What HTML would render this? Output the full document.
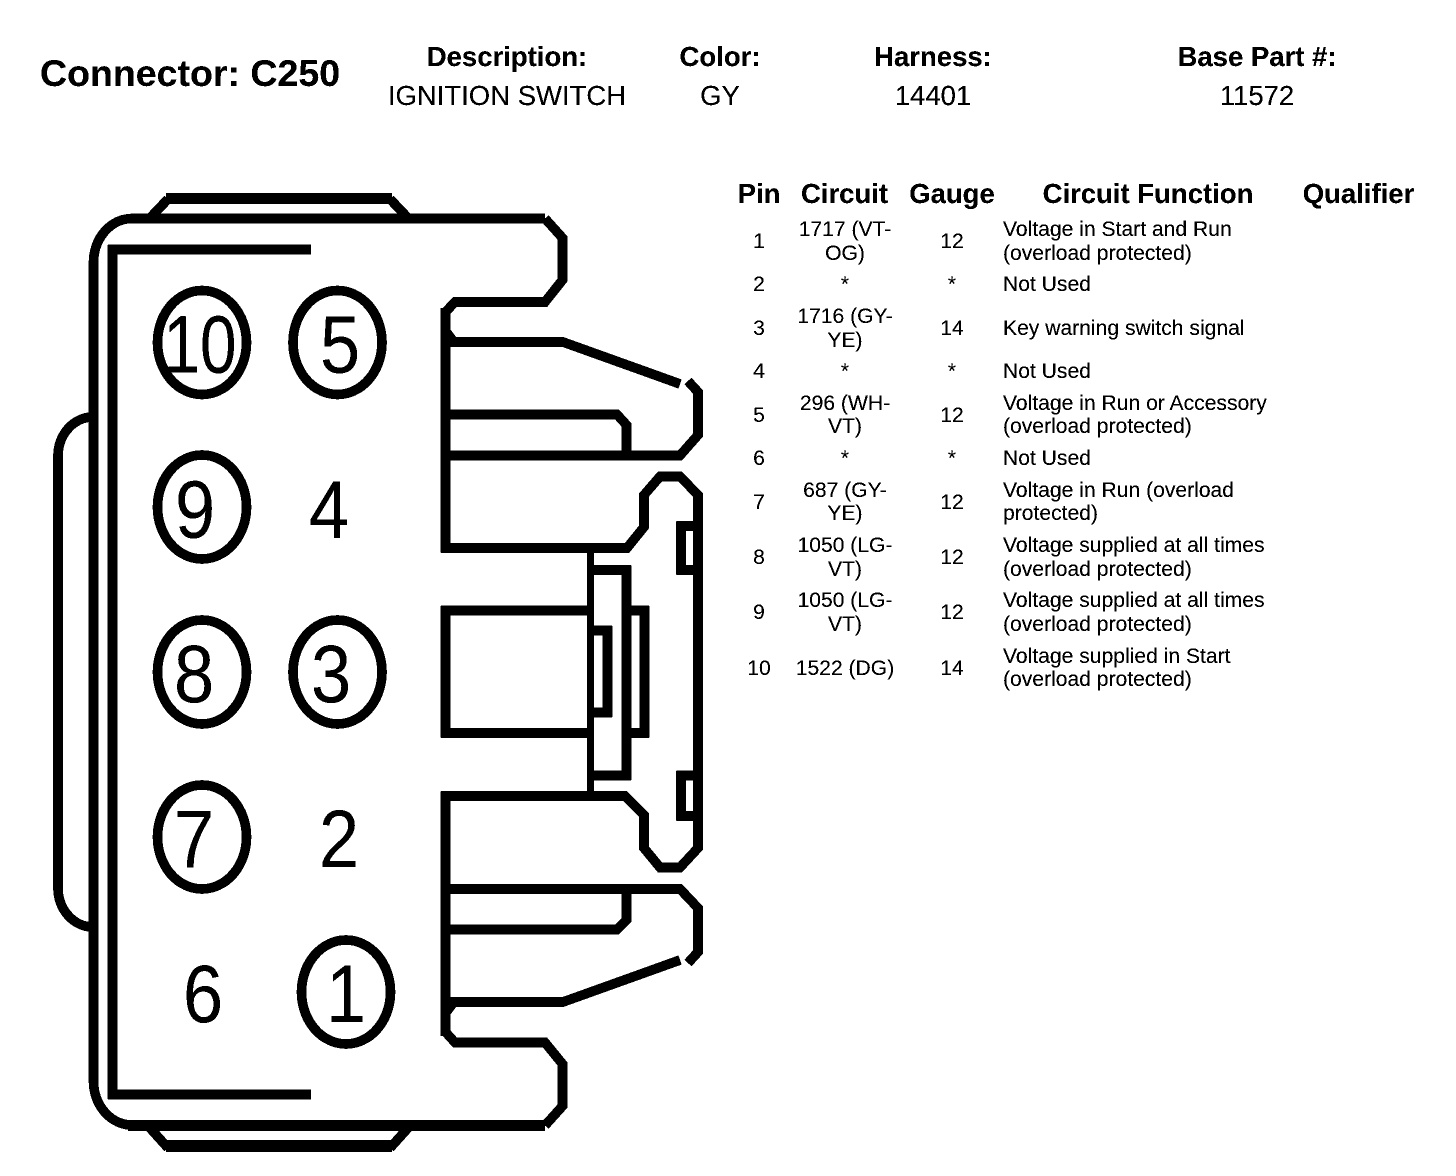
<!DOCTYPE html>
<html><head><meta charset="utf-8"><style>
html,body{margin:0;padding:0;background:#fff;width:1456px;height:1176px;overflow:hidden}
svg{display:block}
text{font-family:"Liberation Sans",Arial,sans-serif;fill:#000}
.h{font-size:27.5px;font-weight:bold;text-anchor:middle}
.v{font-size:27.5px;text-anchor:middle}
.c{font-size:21.1px;text-anchor:middle}
.l{font-size:21.1px}
.d{font-size:82px;text-anchor:middle}
.s{fill:none;stroke:#000;stroke-width:9.5;stroke-linejoin:miter;stroke-linecap:butt}
</style></head><body>
<svg width="1456" height="1176" viewBox="0 0 1456 1176" xmlns="http://www.w3.org/2000/svg">
<defs><filter id="b" x="0" y="0" width="1456" height="1176" filterUnits="userSpaceOnUse"><feComponentTransfer><feFuncA type="discrete" tableValues="0 1 1"/></feComponentTransfer></filter></defs>
<g filter="url(#b)">
<text x="40" y="86" style="font-size:37.5px;font-weight:bold">Connector: C250</text>
<text class="h" x="507" y="66">Description:</text><text class="v" x="507" y="105">IGNITION SWITCH</text>
<text class="h" x="720" y="66">Color:</text><text class="v" x="720" y="105">GY</text>
<text class="h" x="933" y="66">Harness:</text><text class="v" x="933" y="105">14401</text>
<text class="h" x="1257" y="66">Base Part #:</text><text class="v" x="1257" y="105">11572</text>

<text class="h" x="759" y="203">Pin</text><text class="h" x="844.500" y="203">Circuit</text><text class="h" x="952" y="203">Gauge</text><text class="h" x="1148" y="203">Circuit Function</text><text class="h" x="1358.500" y="203">Qualifier</text>

<text class="c" x="759" y="248">1</text><text class="c" x="845" y="236">1717 (VT-</text><text class="c" x="845" y="260">OG)</text><text class="c" x="952" y="248">12</text><text class="l" x="1003" y="236">Voltage in Start and Run</text><text class="l" x="1003" y="260">(overload protected)</text>
<text class="c" x="759" y="291">2</text><text class="c" x="845" y="291">*</text><text class="c" x="952" y="291">*</text><text class="l" x="1003" y="291">Not Used</text>
<text class="c" x="759" y="335">3</text><text class="c" x="845" y="323">1716 (GY-</text><text class="c" x="845" y="347">YE)</text><text class="c" x="952" y="335">14</text><text class="l" x="1003" y="335">Key warning switch signal</text>
<text class="c" x="759" y="378">4</text><text class="c" x="845" y="378">*</text><text class="c" x="952" y="378">*</text><text class="l" x="1003" y="378">Not Used</text>
<text class="c" x="759" y="422">5</text><text class="c" x="845" y="410">296 (WH-</text><text class="c" x="845" y="433">VT)</text><text class="c" x="952" y="422">12</text><text class="l" x="1003" y="410">Voltage in Run or Accessory</text><text class="l" x="1003" y="433">(overload protected)</text>
<text class="c" x="759" y="465">6</text><text class="c" x="845" y="465">*</text><text class="c" x="952" y="465">*</text><text class="l" x="1003" y="465">Not Used</text>
<text class="c" x="759" y="509">7</text><text class="c" x="845" y="497">687 (GY-</text><text class="c" x="845" y="520">YE)</text><text class="c" x="952" y="509">12</text><text class="l" x="1003" y="497">Voltage in Run (overload</text><text class="l" x="1003" y="520">protected)</text>
<text class="c" x="759" y="564">8</text><text class="c" x="845" y="552">1050 (LG-</text><text class="c" x="845" y="576">VT)</text><text class="c" x="952" y="564">12</text><text class="l" x="1003" y="552">Voltage supplied at all times</text><text class="l" x="1003" y="576">(overload protected)</text>
<text class="c" x="759" y="619">9</text><text class="c" x="845" y="607">1050 (LG-</text><text class="c" x="845" y="631">VT)</text><text class="c" x="952" y="619">12</text><text class="l" x="1003" y="607">Voltage supplied at all times</text><text class="l" x="1003" y="631">(overload protected)</text>
<text class="c" x="759" y="675">10</text><text class="c" x="845" y="675">1522 (DG)</text><text class="c" x="952" y="675">14</text><text class="l" x="1003" y="663">Voltage supplied in Start</text><text class="l" x="1003" y="686">(overload protected)</text>

<!-- outer shell -->
<path class="s" d="M545 218.500H132A38.500 44 0 0 0 93.500 262.500V1081A38.500 44 0 0 0 132 1125"/>
<path d="M128 1120H545V1131H128Z"/>
<path class="s" d="M545 218.500L562.500 238V280L545 302H455L445.500 312"/>
<path class="s" d="M545 1125.500L562.500 1106V1064L545 1042.500H455L445.500 1032"/>
<path class="s" d="M150 218L168 199"/><path class="s" d="M390 199L408 218"/>
<path class="s" d="M150 1128L168 1148"/><path class="s" d="M390 1148L408 1128"/>
<path d="M166 193H392V204H166ZM166 1140H392V1152H166Z"/>
<path class="s" d="M311 249.500H112.500V1094.500H311"/>
<path class="s" d="M93 417A35 39 0 0 0 58 456V888A35 39 0 0 0 93 927"/>

<!-- right side structure -->
<path class="s" d="M445.500 308V548H627L644 527V495L660 476.500H680L698 495V848L680 867.500H660L644 848V815L625 796H445.500V1036"/>
<path d="M450 329L456 337V347H448V329ZM450 1015L456 1007V997H448V1015Z"/>
<path class="s" d="M453 342H563L680 384"/>
<path class="s" d="M688 381L698 392V435L680 455.500H445"/>
<path class="s" d="M450 414.500H617L626.500 425V455"/>
<path class="s" d="M453 1002H563L680 960"/>
<path class="s" d="M688 963L698 952V908L680 889H445"/>
<path class="s" d="M450 929.500H617L626.500 920V889"/>
<path class="s" d="M693 526H681V570H693"/>
<path class="s" d="M693 775.500H681V816H693"/>
<path d="M587 553H594V791H587Z"/>
<path class="s" d="M590 570H626.500V775.500H590"/>
<path class="s" d="M590 610.500H445.500V733H590"/>
<path class="s" d="M592 630.500H607.500V712.500H592"/>
<path class="s" d="M630 610.500H644.500V733H630"/>

<!-- pin circles -->
<g fill="none" stroke="#000" stroke-width="9.500">
<ellipse cx="202" cy="342.500" rx="44.500" ry="52"/>
<ellipse cx="337.500" cy="342.500" rx="44.500" ry="52"/>
<ellipse cx="202" cy="507" rx="44.500" ry="52"/>
<ellipse cx="202" cy="672" rx="44.500" ry="52"/>
<ellipse cx="337.500" cy="672" rx="44.500" ry="52"/>
<ellipse cx="202" cy="837" rx="44.500" ry="52"/>
<ellipse cx="346" cy="992" rx="44.500" ry="52"/>
</g>
<text class="d" transform="translate(200 372.500) scale(.8 1)">10</text>
<text class="d" transform="translate(340 372.500) scale(.88 1)">5</text>
<text class="d" transform="translate(195 537.500) scale(.88 1)">9</text>
<text class="d" transform="translate(329 537.500) scale(.88 1)">4</text>
<text class="d" transform="translate(194 702) scale(.88 1)">8</text>
<text class="d" transform="translate(331 702) scale(.88 1)">3</text>
<text class="d" transform="translate(194 867) scale(.88 1)">7</text>
<text class="d" transform="translate(339 867) scale(.88 1)">2</text>
<text class="d" transform="translate(203 1022) scale(.88 1)">6</text>
<text class="d" transform="translate(346 1022) scale(.88 1)">1</text>
</g>
</svg>
</body></html>
